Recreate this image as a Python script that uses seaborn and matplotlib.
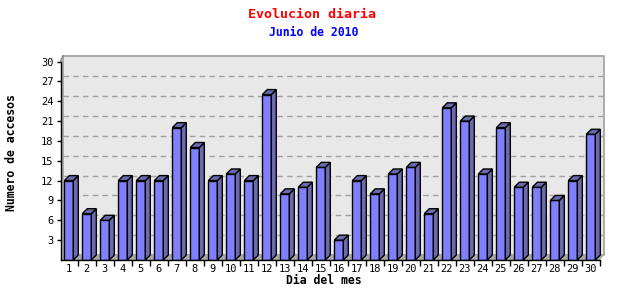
import matplotlib
matplotlib.use("Agg")
import matplotlib.pyplot as plt
import seaborn as sns
import pandas as pd
from matplotlib.patches import Polygon, Rectangle

days = [str(d) for d in range(1, 31)]
visits = [12, 7, 6, 12, 12, 12, 20, 17, 12, 13, 12, 25, 10, 11, 14,
          3, 12, 10, 13, 14, 7, 23, 21, 13, 20, 11, 11, 9, 12, 19]
yticks = [3, 6, 9, 12, 15, 18, 21, 24, 27, 30]
title = "Evolucion diaria"
subtitle = "Junio de 2010"
xlabel = "Dia del mes"
ylabel = "Numero de accesos"

FRONT = "#8080ff"
SIDE = "#6a6aac"
PANEL = "#e8e8e8"
PANEL_EDGE = "#a0a0a0"
FLOOR = "#a8a8a8"
MONO = "DejaVu Sans Mono"

W, H = 640, 300
fig = plt.figure(figsize=(W / 100, H / 100), dpi=100)
L, R, T, B = 60.5, 600, 61.5, 260
PANEL_R, PANEL_T = 604, 55.7
ax = fig.add_axes([L / W, 1 - B / H, (R - L) / W, (B - T) / H])
ax.set_facecolor("none")

df = pd.DataFrame({"dia": days, "accesos": visits})
sns.barplot(data=df, x="dia", y="accesos", color=FRONT, saturation=1,
            edgecolor="black", linewidth=1, width=0.5, ax=ax, zorder=3)

xmin, xmax = -0.461, 29.51
ymin, ymax = 0, 30
ax.set_xlim(xmin, xmax)
ax.set_ylim(ymin, ymax)

pxx = (R - L) / (xmax - xmin)
pxy = (B - T) / (ymax - ymin)
dx, dy = 5 / pxx, 5 / pxy
pdx = 2.5 / pxx
panel_right = xmax + (PANEL_R - R) / pxx
panel_top = (B - PANEL_T) / pxy

# back panel
ax.add_patch(Rectangle((xmin + pdx, dy), panel_right - xmin - pdx, panel_top - dy,
                       facecolor=PANEL, edgecolor=PANEL_EDGE, linewidth=1.2,
                       zorder=0, clip_on=False))
# floor
ax.add_patch(Polygon([(xmin, 0), (xmax, 0), (panel_right, dy), (xmin + pdx, dy)],
                     closed=True, facecolor=FLOOR, edgecolor="none", zorder=1, clip_on=False))
# grid lines on back panel
for v in yticks[:-1]:
    ax.plot([xmin + pdx, panel_right], [v + dy, v + dy], color="#a0a0a0",
            linestyle=(0, (4, 3)), linewidth=1, zorder=1, clip_on=False)
# diagonal at top-left
ax.plot([xmin, xmin + pdx], [ymax, panel_top], color="#808080",
        linewidth=1, zorder=2, clip_on=False)

# 3D faces
for p in list(ax.patches):
    if not isinstance(p, Rectangle) or p.get_facecolor()[:3] != matplotlib.colors.to_rgb(FRONT):
        continue
    x0 = p.get_x()
    x1 = x0 + p.get_width()
    h = p.get_height()
    ax.add_patch(Polygon([(x1, 0), (x1, h), (x1 + dx, h + dy), (x1 + dx, dy)], closed=True,
                         facecolor=SIDE, edgecolor="black", linewidth=1, zorder=3, clip_on=False))
    ax.add_patch(Polygon([(x0, h), (x1, h), (x1 + dx, h + dy), (x0 + dx, h + dy)], closed=True,
                         facecolor=SIDE, edgecolor="black", linewidth=1, zorder=3, clip_on=False))

for s in ["top", "right"]:
    ax.spines[s].set_visible(False)
for s in ["left", "bottom"]:
    ax.spines[s].set_color("black")
    ax.spines[s].set_linewidth(1)
    ax.spines[s].set_zorder(4)

ax.set_yticks(yticks)
ax.set_yticklabels([str(v) for v in yticks], fontsize=7.5, family=MONO)
ax.tick_params(axis="y", direction="out", length=3, width=1, pad=2, colors="black")
ax.set_xticks(range(len(days)))
ax.set_xticklabels(days, fontsize=7.5, family=MONO)
ax.tick_params(axis="x", which="major", length=0, pad=3)
ax.set_xticks([i + 0.5 for i in range(len(days))], minor=True)
ax.tick_params(axis="x", which="minor", direction="out", length=4, width=1, color="black")

ax.set_xlabel("")
ax.set_ylabel("")
fig.text(324 / W, 1 - 281 / H, xlabel, fontsize=8.3, family=MONO, fontweight="bold",
         ha="center", va="center")
fig.text(12 / W, 1 - 152.5 / H, ylabel, fontsize=8.3, family=MONO, fontweight="bold",
         rotation=90, ha="center", va="center")

fig.text(312.5 / W, 1 - 14 / H, title, color="red", fontsize=9.6, family=MONO,
         fontweight="bold", ha="center", va="center")
fig.text(313.3 / W, 1 - 32.3 / H, subtitle, color="blue", fontsize=8.3, family=MONO,
         fontweight="bold", ha="center", va="center")

fig.savefig("out.png", dpi=100, facecolor="white")
